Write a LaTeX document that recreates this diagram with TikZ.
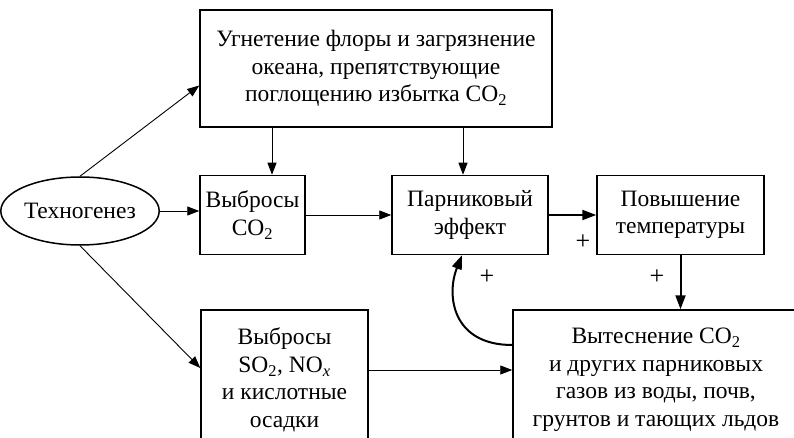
\documentclass[tikz,border=0pt]{standalone}
\usepackage{fontspec}
\setmainfont{Liberation Serif}
\usetikzlibrary{arrows.meta,shapes.geometric}
\begin{document}
\begin{tikzpicture}[x=1pt,y=-1pt,
  box/.style={draw,line width=1.5pt,align=center,inner sep=0pt,font=\fontsize{23.5}{27.5}\selectfont},
  thinarrow/.style={line width=0.9pt,-{Triangle[length=12pt,width=9pt]}},
  boldarrow/.style={line width=2pt,-{Triangle[length=14pt,width=10pt]}},
  plus/.style={inner sep=0pt,font=\fontsize{26}{30}\selectfont}]
\useasboundingbox (0,0) rectangle (794,438);
\clip (0,0) rectangle (794,438);
\node[box,minimum width=352pt,minimum height=117pt] (top) at (376,68.5)
  {Угнетение флоры и загрязнение\\океана, препятствующие\\поглощению избытка CO\textsubscript{2}};
\node[box,ellipse,minimum width=145pt,minimum height=68pt] (tech) at (80,211) {Техногенез};
\node[box,minimum width=105pt,minimum height=79pt] (co2) at (252.5,215) {Выбросы\\CO\textsubscript{2}};
\node[box,minimum width=156pt,minimum height=79pt] (park) at (470,215) {Парниковый\\эффект};
\node[box,minimum width=167pt,minimum height=79pt] (pov) at (680.5,215) {Повышение\\температуры};
\node[box,minimum width=167pt,minimum height=140pt] (so2) at (284.5,380)
  {Выбросы\\SO\textsubscript{2}, NO\textsubscript{\textit{x}}\\и кислотные\\осадки};
\node[box,minimum width=286pt,minimum height=140pt] (vyt) at (656,380)
  {Вытеснение CO\textsubscript{2}\\и других парниковых\\газов из воды, почв,\\грунтов и тающих льдов};
\coordinate (a1) at (272,0);
\coordinate (a2) at (463,0);
\coordinate (a3) at (462,0);
\coordinate (s1) at ([yshift=10pt]so2.east);
\draw[thinarrow] (tech.north) -- ([yshift=-17pt]top.west);
\draw[thinarrow] (tech.south) -- ([yshift=12pt]so2.west);
\draw[thinarrow] (tech.east) -- (co2.west |- tech.east);
\draw[thinarrow] (top.south -| a1) -- (co2.north -| a1);
\draw[thinarrow] (top.south -| a2) -- (park.north -| a2);
\draw[thinarrow] (co2.east) -- (park.west);
\draw[boldarrow] (park.east) -- (pov.west);
\draw[boldarrow] (pov.south) -- (vyt.north -| pov.south);
\draw[thinarrow] (s1) -- (vyt.west |- s1);
\draw[boldarrow] ([yshift=35pt]vyt.west) .. controls +(-60,0) and +(-16,40) .. (park.south -| a3);
\node[plus] (p1) at (583,242) {+};
\node[plus] (p2) at (487,277) {+};
\node[plus] (p3) at (657,277) {+};
\end{tikzpicture}
\end{document}
